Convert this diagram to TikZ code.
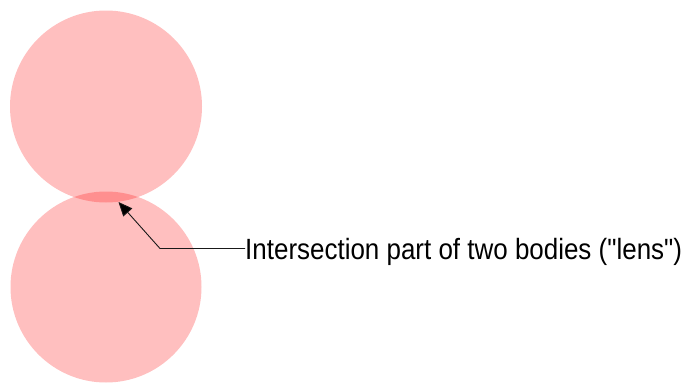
\documentclass[tikz,border=0pt]{standalone}
\usepackage{fontspec}
\setmainfont{Liberation Sans}[Ligatures=TeXOff]
\usetikzlibrary{arrows.meta}
\tikzset{
  body/.style={fill=red, fill opacity=0.25, draw=none},
  leader/.style={draw=black!90, line width=0.9pt},
  pointer/.style={leader, -{Triangle[length=14pt,width=12pt,fill=black]}},
  caption/.style={anchor=base west, inner sep=0pt, font=\fontsize{29.3pt}{32pt}\selectfont}
}
\begin{document}
\begin{tikzpicture}[x=1pt, y=-1pt]
  \useasboundingbox (0,0) rectangle (683,383);
  % the two overlapping bodies
  \fill[body] (106,106.5) circle (96);
  \fill[body] (106,287) circle (95.5);
  % label and leader line
  \coordinate (tip) at (118.5,202);
  \coordinate (bend) at (160,248.5);
  \node[caption] (lbl) at (245,259.5) {\scalebox{0.886}[1]{Intersection part of two bodies ("lens")}};
  \draw[pointer] (lbl.west |- bend) -- (bend) -- (tip);
\end{tikzpicture}
\end{document}
